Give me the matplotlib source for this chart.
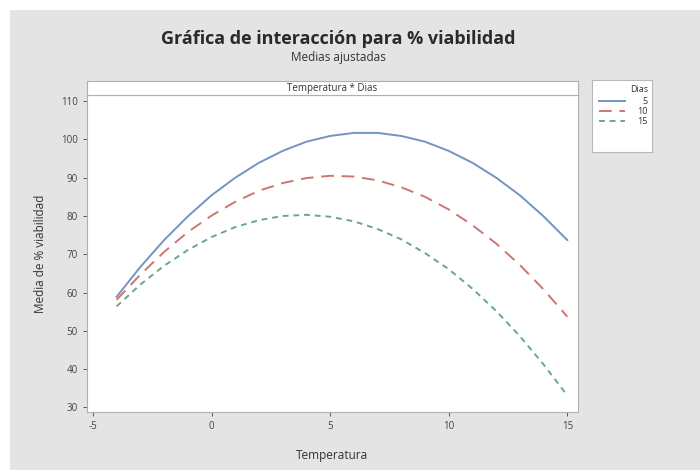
import matplotlib
matplotlib.use("Agg")
import matplotlib.pyplot as plt
from matplotlib.patches import Rectangle
from matplotlib.lines import Line2D

# ---- data ----
temperatura = [-4, -3, -2, -1, 0, 1, 2, 3, 4, 5, 6, 7, 8, 9, 10, 11, 12, 13, 14, 15]
dias_5 = [58.9, 66.7, 73.7, 79.9, 85.4, 90.0, 93.9, 97.0, 99.4, 100.9, 101.7, 101.7,
          100.9, 99.4, 97.0, 93.9, 90.0, 85.4, 79.9, 73.7]
dias_10 = [58.1, 64.7, 70.6, 75.8, 80.1, 83.7, 86.6, 88.6, 89.9, 90.5, 90.3, 89.3,
           87.5, 85.0, 81.7, 77.6, 72.8, 67.2, 60.8, 53.7]
dias_15 = [56.4, 62.1, 67.0, 71.1, 74.5, 77.1, 78.9, 80.0, 80.3, 79.8, 78.6, 76.6,
           73.9, 70.3, 66.1, 61.0, 55.2, 48.6, 41.2, 33.1]
series_labels = ["5", "10", "15"]
x_ticks = [-5, 0, 5, 10, 15]
y_ticks = [30, 40, 50, 60, 70, 80, 90, 100, 110]

colors = ["#7394c2", "#cc7672", "#68a788"]
styles = ["-", (0, (6.5, 4)), (0, (3, 2.5))]

plt.rcParams['font.family'] = ['Open Sans', 'DejaVu Sans']
plt.rcParams['axes.unicode_minus'] = False

W, H = 700, 470
fig = plt.figure(figsize=(7, 4.7), dpi=100, facecolor="white")

# gray panel background
fig.patches.append(Rectangle((10 / W, 0), 1 - 10 / W, 1 - 10 / H, transform=fig.transFigure,
                             facecolor="#e4e4e4", edgecolor="none", zorder=-10))

def fx(px):
    return px / W

def fy(py):
    return 1 - py / H

L, R, T, B = 87, 578, 95, 412
ax = fig.add_axes([fx(L), fy(B), fx(R) - fx(L), fy(T) - fy(B)])
ax.set_facecolor("white")

for ys, c, ls in zip([dias_5, dias_10, dias_15], colors, styles):
    ax.plot(temperatura, ys, color=c, linestyle=ls, linewidth=1.4)

ax.set_xlim(-5.25, 15.45)
ax.set_ylim(28.8, 111.6)
ax.set_xticks(x_ticks)
ax.set_yticks(y_ticks)
ax.tick_params(axis="both", labelsize=7, colors="#444444", length=3, width=0.6,
               direction="out")
for s in ax.spines.values():
    s.set_color("#b0b0b0")
    s.set_linewidth(0.8)
ax.set_xlabel("Temperatura", fontsize=8.5, color="#333333", labelpad=12)
ax.set_ylabel("Media de % viabilidad", fontsize=8.5, color="#333333", labelpad=10)

# strip
sax = fig.add_axes([fx(L), fy(T), fx(R) - fx(L), fy(81) - fy(T)])
sax.set_facecolor("white")
sax.set_xticks([])
sax.set_yticks([])
for s in sax.spines.values():
    s.set_color("#b0b0b0")
    s.set_linewidth(0.8)
sax.text(0.5, 0.45, "Temperatura * Dias", ha="center", va="center", fontsize=7,
         color="#333333", transform=sax.transAxes)

# titles
fig.text(fx(338), fy(39), "Gráfica de interacción para % viabilidad", ha="center",
         va="center", fontsize=13, fontweight="bold", color="#2a2a2a")
fig.text(fx(338), fy(58), "Medias ajustadas", ha="center", va="center", fontsize=8.5,
         color="#333333")

# legend panel
lax = fig.add_axes([fx(592), fy(152), fx(652) - fx(592), fy(80) - fy(152)])
lax.set_facecolor("white")
lax.set_xlim(0, 60)
lax.set_ylim(72, 0)
lax.set_xticks([])
lax.set_yticks([])
for s in lax.spines.values():
    s.set_color("#b8b8b8")
    s.set_linewidth(0.8)
lax.text(56, 9, "Dias", ha="right", va="center", fontsize=6.5, color="#333333")
for i, (lab, c, ls) in enumerate(zip(series_labels, colors, styles)):
    yy = 21 + i * 10
    lax.add_line(Line2D([7, 33], [yy, yy], color=c, linestyle=ls, linewidth=1.4))
    lax.text(56, yy, lab, ha="right", va="center", fontsize=6.5, color="#333333")

fig.savefig("out.png", dpi=100, facecolor="white")
